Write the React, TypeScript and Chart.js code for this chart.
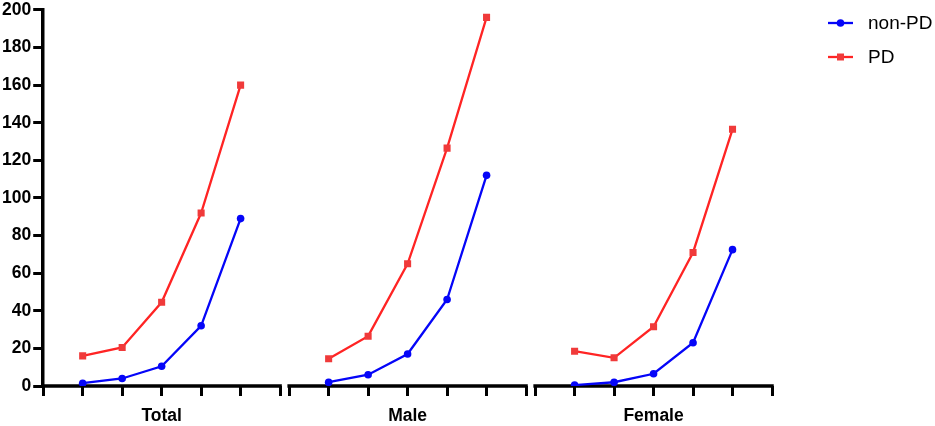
import React, { useEffect, useRef } from "react";
import { Chart, registerables } from "chart.js";

Chart.register(...registerables);

const groups = ["Total", "Male", "Female"];
const seriesLabels = ["non-PD", "PD"];
const nonPdTotal = [1.5, 4, 10.5, 32, 89];
const nonPdMale = [2, 6, 17, 46, 112];
const nonPdFemale = [0.5, 2, 6.5, 23, 72.5];
const pdTotal = [16, 20.5, 44.5, 92, 160];
const pdMale = [14.5, 26.5, 65, 126.5, 196];
const pdFemale = [18.5, 15, 31.5, 71, 136.5];
const yTicks = [0, 20, 40, 60, 80, 100, 120, 140, 160, 180, 200];

const GROUP_SPAN = 6;
const GROUP_GAP = 0.23;
const groupStarts = groups.map((_, i) => i * (GROUP_SPAN + GROUP_GAP));

const FONT = "'Liberation Sans', Arial, Helvetica, sans-serif";
const BLUE = "#0505f8";
const RED = "#ff2424";
const RED_FILL = "#f03a3a";

function buildSeries(arrs: number[][]) {
  const out: { x: number; y: number | null }[] = [];
  arrs.forEach((arr, g) => {
    arr.forEach((v, i) => out.push({ x: groupStarts[g] + i + 1, y: v }));
    if (g < arrs.length - 1) out.push({ x: groupStarts[g] + GROUP_SPAN + GROUP_GAP / 2, y: null });
  });
  return out;
}

const axisPlugin = {
  id: "segAxis",
  beforeDatasetsDraw(chart: any) {
    const { ctx, chartArea, scales } = chart;
    const x = scales.x;
    ctx.save();
    ctx.strokeStyle = "#000";
    ctx.lineWidth = 3.5;
    groupStarts.forEach((s) => {
      const a = x.getPixelForValue(s);
      const b = x.getPixelForValue(s + GROUP_SPAN);
      ctx.beginPath();
      ctx.moveTo(a - 1.75, chartArea.bottom);
      ctx.lineTo(b + 1.75, chartArea.bottom);
      ctx.stroke();
    });
    ctx.restore();
  },
  afterDraw(chart: any) {
    const { ctx, chartArea } = chart;
    ctx.save();
    const x0 = chartArea.right + 56;
    const ys = [23, 57];
    chart.data.datasets.forEach((ds: any, i: number) => {
      const y = ys[i];
      ctx.strokeStyle = ds.borderColor;
      ctx.lineWidth = 2.3;
      ctx.beginPath();
      ctx.moveTo(x0, y);
      ctx.lineTo(x0 + 25, y);
      ctx.stroke();
      ctx.fillStyle = ds.pointBackgroundColor;
      ctx.beginPath();
      if (ds.pointStyle === "rect") {
        ctx.rect(x0 + 12.5 - 3.5, y - 3.5, 7, 7);
      } else {
        ctx.arc(x0 + 12.5, y, 3.8, 0, Math.PI * 2);
      }
      ctx.fill();
      ctx.fillStyle = "#000";
      ctx.font = `19px ${FONT}`;
      ctx.textBaseline = "middle";
      ctx.textAlign = "left";
      ctx.fillText(ds.label, x0 + 40, y + 1);
    });
    ctx.restore();
  },
};

export default function App() {
  const ref = useRef<HTMLCanvasElement>(null);
  useEffect(() => {
    if (!ref.current) return;
    const chart = new Chart(ref.current, {
      type: "line",
      data: {
        datasets: [
          {
            label: seriesLabels[0],
            data: buildSeries([nonPdTotal, nonPdMale, nonPdFemale]),
            borderColor: BLUE,
            backgroundColor: BLUE,
            pointBackgroundColor: BLUE,
            pointBorderColor: BLUE,
            pointStyle: "circle",
            pointRadius: 3.8,
            pointBorderWidth: 0,
            borderWidth: 2.3,
            spanGaps: false,
          },
          {
            label: seriesLabels[1],
            data: buildSeries([pdTotal, pdMale, pdFemale]),
            borderColor: RED,
            backgroundColor: RED_FILL,
            pointBackgroundColor: RED_FILL,
            pointBorderColor: RED_FILL,
            pointStyle: "rect",
            pointRadius: 5,
            pointBorderWidth: 0,
            borderWidth: 2.3,
            spanGaps: false,
          },
        ],
      } as any,
      options: {
        animation: false,
        responsive: false,
        maintainAspectRatio: false,
        layout: { padding: { top: 0, right: 163, left: 0, bottom: -11 } },
        plugins: { legend: { display: false }, tooltip: { enabled: false } },
        scales: {
          x: {
            type: "linear",
            min: 0,
            max: groupStarts[groupStarts.length - 1] + GROUP_SPAN,
            afterBuildTicks: (scale: any) => {
              const t: { value: number }[] = [];
              groupStarts.forEach((s) => {
                for (let i = 0; i <= GROUP_SPAN; i++) t.push({ value: s + i });
              });
              scale.ticks = t;
            },
            border: { display: false },
            grid: {
              drawOnChartArea: false,
              drawTicks: true,
              tickLength: 10,
              lineWidth: 3,
              color: "#000",
              tickColor: "#000",
            },
            ticks: {
              autoSkip: false,
              maxRotation: 0,
              padding: 10,
              color: "#000",
              font: { family: FONT, size: 17.5, weight: "bold", lineHeight: 1.2 },
              callback: (v: any) => {
                const idx = groupStarts.findIndex((s) => Math.abs(s + GROUP_SPAN / 2 - Number(v)) < 1e-6);
                return idx >= 0 ? groups[idx] : "";
              },
            },
          },
          y: {
            min: 0,
            max: 200,
            afterBuildTicks: (scale: any) => {
              scale.ticks = yTicks.map((v) => ({ value: v }));
            },
            border: { display: true, color: "#000", width: 3.5 },
            grid: {
              drawOnChartArea: false,
              drawTicks: true,
              tickLength: 10,
              lineWidth: 3,
              color: "#000",
              tickColor: "#000",
            },
            ticks: {
              padding: 2,
              color: "#000",
              font: { family: FONT, size: 17.5, weight: "bold", lineHeight: 0.9 },
            },
          },
        },
      } as any,
      plugins: [axisPlugin],
    });
    return () => chart.destroy();
  }, []);
  return (
    <div style={{ position: "absolute", left: 0, top: 0, width: 935, height: 426, background: "#fff" }}>
      <canvas ref={ref} width={935} height={426} style={{ width: 935, height: 426 }} />
    </div>
  );
}
